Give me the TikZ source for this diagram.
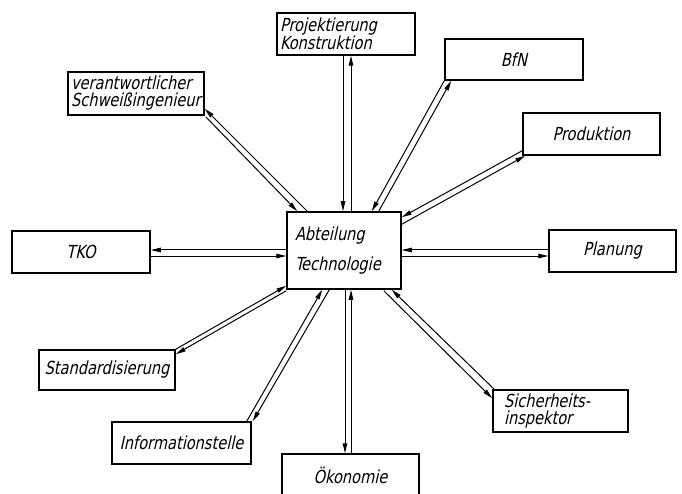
\documentclass[tikz,border=0pt]{standalone}
\usepackage{fontspec}
\newfontfamily\din{DejaVu Sans Condensed}[FakeSlant=0.22,FakeStretch=0.9]
\usetikzlibrary{arrows.meta,calc}
\begin{document}
\begin{tikzpicture}[x=1pt,y=-1pt,
  box/.style={draw, line width=1.5pt, inner sep=0pt, align=center,
    font=\din\fontsize{18}{17}\selectfont},
  lbox/.style={box, align=left},
  link/.style={line width=1pt, -{Triangle[length=10pt,width=4.5pt]}}]
\useasboundingbox (0,0) rectangle (682,494);
% central box
\node[lbox, text width=98pt, inner xsep=8pt, minimum height=77pt,
  font=\din\fontsize{18}{30}\selectfont] (C) at (344,250.5) {Abteilung\\Technologie};
% outer boxes
\node[lbox, text width=132pt, inner xsep=3pt, minimum height=42pt] (P) at (346,34) {Projektierung\\Konstruktion};
\node[lbox, text width=130pt, inner xsep=3pt, minimum height=43pt] (V) at (136,93.5) {verantwortlicher\\Schweißingenieur};
\node[box, minimum width=138pt, minimum height=42pt] (T) at (81,252) {TKO};
\node[box, minimum width=138pt, minimum height=41pt] (B) at (514,59.5) {BfN};
\node[box, minimum width=137pt, minimum height=42pt] (Pr) at (591.5,134) {Produktion};
\node[box, minimum width=127pt, minimum height=42pt] (Pl) at (612.5,251) {Planung};
\node[box, minimum width=136pt, minimum height=40pt] (St) at (107,370) {Standardisierung};
\node[box, minimum width=139pt, minimum height=42pt] (I) at (181.5,443) {Informationstelle};
\node[box, minimum width=137pt, minimum height=43pt] (O) at (350.5,475.5) {Ökonomie};
\node[lbox, text width=113pt, inner xsep=11pt, minimum height=42pt] (S) at (560.5,411) {Sicherheits-\\inspektor};
% connectors
% verantwortlicher Schweissingenieur
\draw[link] ([xshift=21pt]C.north west) -- ([yshift=7pt]V.south east);
\draw[link] ([xshift=1pt,yshift=-1pt]V.south east) -- ([xshift=11pt]C.north west);
% Projektierung
\draw[link] ([xshift=-3pt]P.south) -- ([xshift=-1pt]C.north);
\draw[link] ([xshift=7pt]C.north) -- ([xshift=5pt]P.south);
% BfN
\draw[link] (B.south west) -- ([xshift=-30pt]C.north east);
\draw[link] ([xshift=-23pt]C.north east) -- ([xshift=7pt]B.south west);
% Produktion
\draw[link] ([yshift=5pt]Pr.south west) -- ([yshift=-6pt]C.north east);
\draw[link] ([yshift=-13pt]C.north east) -- ([xshift=3pt]Pr.south west);
% Planung
\draw[link] ([yshift=0.5pt]C.east -| Pl.west) -- ([yshift=0.5pt]C.east);
\draw[link] ([yshift=-5.5pt]C.east) -- ([yshift=-5.5pt]C.east -| Pl.west);
% TKO
\draw[link] ([yshift=0.5pt]C.west) -- ([yshift=0.5pt]C.west -| T.east);
\draw[link] ([yshift=-5.5pt]C.west -| T.east) -- ([yshift=-5.5pt]C.west);
% Sicherheitsinspektor
\draw[link] ([xshift=-18pt,yshift=-1pt]C.south east) -- ([yshift=-9pt]S.north west);
\draw[link] ([xshift=2pt]S.north west) -- ([xshift=-10pt]C.south east);
% Oekonomie
\draw[link] ([xshift=1pt]C.south) -- ([xshift=-5.5pt]O.north);
\draw[link] ([xshift=0.5pt]O.north) -- ([xshift=7pt]C.south);
% Informationstelle
\draw[link] ([xshift=-5pt]I.north east) -- ([xshift=36pt]C.south west);
\draw[link] ([xshift=43pt]C.south west) -- ([xshift=1pt]I.north east);
% Standardisierung
\draw[link] (St.north east) -- ([yshift=4pt]C.south west);
\draw[link] ([yshift=-1pt]C.south west) -- ([yshift=-5pt]St.north east);
\end{tikzpicture}
\end{document}
